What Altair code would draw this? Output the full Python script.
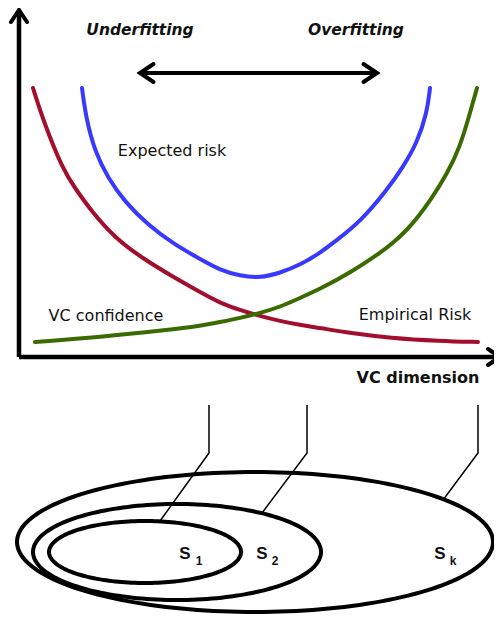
import altair as alt
import pandas as pd
import numpy as np

# ---------------- data (page pixel coordinates) -------------
red_x = [33, 43, 63, 75, 92, 115, 142, 175, 200, 220, 240, 260, 280, 300, 320, 350, 390, 440, 478]
red_y = [88, 120, 170, 188, 212, 238, 258, 278, 292, 303, 310, 316, 321, 325, 328, 333, 338, 341, 342]

blue_x = [82, 86, 95, 108, 125, 148, 175, 202, 220, 240, 260, 280, 300, 320, 337, 360, 387, 403, 417, 427, 430]
blue_y = [88, 118, 152, 178, 202, 225, 245, 260, 270, 276, 278, 273, 265, 253, 240, 222, 190, 167, 143, 113, 88]

green_x = [35, 100, 167, 200, 220, 240, 260, 280, 300, 320, 350, 380, 393, 407, 418, 430, 447, 460, 470, 477]
green_y = [342, 337, 330, 326, 322, 318, 313, 307, 298, 289, 273, 253, 243, 230, 217, 201, 174, 147, 113, 88]

# axes (start/end)
axis_x1 = [19, 19]
axis_y1 = [357, 357]
axis_x2 = [19, 498]
axis_y2 = [12, 357]

# double arrow
darrow_x1, darrow_x2, darrow_y = [141], [376], [73]

# arrow heads: tip positions and direction
head_x = [19, 500, 140, 377]
head_y = [10, 357, 73, 73]
head_angle = [270, 0, 180, 0]
head_size = [256, 256, 324, 324]

# nested sets S1 ⊂ S2 ⊂ Sk (centre, radii)
ell_cx = [145, 177, 255]
ell_cy = [552, 552, 542]
ell_rx = [96, 144, 238]
ell_ry = [31, 48, 70]

# leader lines
lead_id = [1, 1, 1, 2, 2, 2, 3, 3, 3]
lead_x = [209, 209, 160, 307, 307, 262, 478, 478, 443]
lead_y = [405, 453, 521, 405, 453, 513, 405, 453, 500]

# texts
bi_text = ["Underfitting", "Overfitting"]
bi_x = [140, 356]
bi_y = [30, 30]

n_text = ["Expected risk", "VC confidence", "Empirical Risk"]
n_x = [172, 106, 415]
n_y = [151, 316, 315]

b_text = ["VC dimension"]
b_x = [418]
b_y = [378]

s_text = ["S", "S", "S"]
s_x = [185, 262, 440]
s_y = [554, 554, 554]
sub_text = ["1", "2", "k"]
sub_x = [199, 275, 453]
sub_y = [561, 561, 561]

# ---------------- build ----------------
W, H = 486, 607
xs = alt.Scale(domain=[8, 8 + W], nice=False, zero=False)
ys = alt.Scale(domain=[8, 8 + H], nice=False, zero=False, reverse=True)

rows = []
for name, xx, yy in zip(["red", "blue", "green"], [red_x, blue_x, green_x], [red_y, blue_y, green_y]):
    for i, (a, b) in enumerate(zip(xx, yy)):
        rows.append({"series": name, "x": a, "y": b, "o": i})
curves_df = pd.DataFrame(rows)

curves = alt.Chart(curves_df).mark_line(strokeWidth=4, strokeCap="round", interpolate="basis").encode(
    x=alt.X("x:Q", scale=xs, axis=None),
    y=alt.Y("y:Q", scale=ys, axis=None),
    color=alt.Color("series:N", scale=alt.Scale(domain=["red", "blue", "green"],
                                                range=["#a30d2e", "#3838ff", "#3b6b00"]), legend=None),
    detail="series:N",
    order="o:Q",
)

axes_df = pd.DataFrame({"x": axis_x1, "y": axis_y1, "x2": axis_x2, "y2": axis_y2})
axes = alt.Chart(axes_df).mark_rule(strokeWidth=4.5, color="black", strokeCap="butt").encode(
    x=alt.X("x:Q", scale=xs, axis=None), y=alt.Y("y:Q", scale=ys, axis=None), x2="x2:Q", y2="y2:Q"
)

darrow_df = pd.DataFrame({"x": darrow_x1, "x2": darrow_x2, "y": darrow_y})
darrow = alt.Chart(darrow_df).mark_rule(strokeWidth=4, color="black").encode(
    x=alt.X("x:Q", scale=xs, axis=None), x2="x2:Q", y=alt.Y("y:Q", scale=ys, axis=None)
)

heads_df = pd.DataFrame({"x": head_x, "y": head_y, "a": head_angle, "s": head_size})
heads = alt.Chart(heads_df).mark_point(
    shape="M -1.5 -1 L 0 0 L -1.5 1", filled=False, strokeWidth=4, color="black", opacity=1,
    strokeJoin="miter", strokeCap="round"
).encode(
    x=alt.X("x:Q", scale=xs, axis=None), y=alt.Y("y:Q", scale=ys, axis=None),
    angle=alt.Angle("a:Q", scale=None), size=alt.Size("s:Q", scale=None, legend=None)
)

t = np.linspace(0, 2 * np.pi, 181)
erows = []
for k, (cx, cy, rx, ry) in enumerate(zip(ell_cx, ell_cy, ell_rx, ell_ry)):
    for i, tt in enumerate(t):
        erows.append({"e": k, "o": i, "x": cx + rx * np.cos(tt), "y": cy + ry * np.sin(tt)})
ell_df = pd.DataFrame(erows)
ellipses = alt.Chart(ell_df).mark_line(strokeWidth=4, color="black").encode(
    x=alt.X("x:Q", scale=xs, axis=None), y=alt.Y("y:Q", scale=ys, axis=None),
    detail="e:N", order="o:Q"
)

lead_df = pd.DataFrame({"id": lead_id, "x": lead_x, "y": lead_y, "o": list(range(len(lead_x)))})
leaders = alt.Chart(lead_df).mark_line(strokeWidth=1.5, color="black").encode(
    x=alt.X("x:Q", scale=xs, axis=None), y=alt.Y("y:Q", scale=ys, axis=None),
    detail="id:N", order="o:Q"
)


def text_layer(txt, xx, yy, size, weight="normal", style="normal", font="DejaVu Sans"):
    df = pd.DataFrame({"t": txt, "x": xx, "y": yy})
    return alt.Chart(df).mark_text(
        align="center", baseline="middle", font=font, fontSize=size,
        fontWeight=weight, fontStyle=style, color="#111111"
    ).encode(
        x=alt.X("x:Q", scale=xs, axis=None), y=alt.Y("y:Q", scale=ys, axis=None), text="t:N"
    )


texts = [
    text_layer(bi_text, bi_x, bi_y, 15.5, "bold", "italic"),
    text_layer(n_text, n_x, n_y, 16),
    text_layer(b_text, b_x, b_y, 16, "bold"),
    text_layer(s_text, s_x, s_y, 17, "bold", font="Liberation Sans"),
    text_layer(sub_text, sub_x, sub_y, 12, "bold", font="Liberation Sans"),
]

chart = alt.layer(axes, darrow, heads, curves, ellipses, leaders, *texts).properties(
    width=W, height=H, padding=0, autosize=alt.AutoSizeParams(type="none")
).configure_view(stroke=None)

chart.save("out.html", embed_options={"renderer": "svg", "actions": False})
